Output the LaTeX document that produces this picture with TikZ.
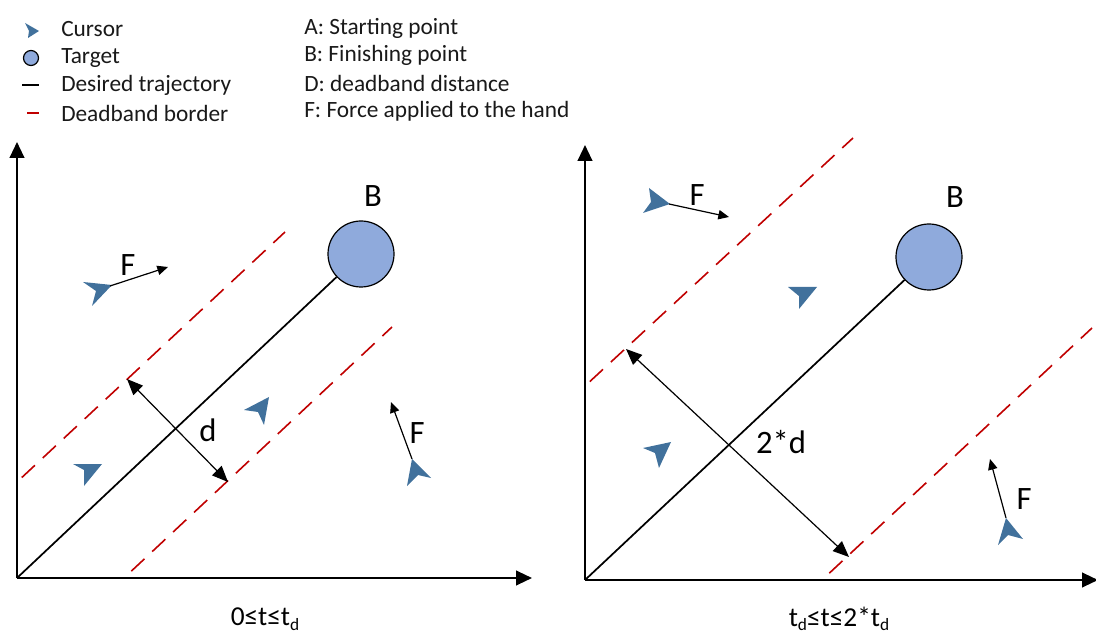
\documentclass[tikz,border=0pt]{standalone}
\usepackage{fontspec}
\setmainfont{Carlito}
\usetikzlibrary{arrows.meta}
\definecolor{curblue}{HTML}{41719C}
\definecolor{tgtblue}{HTML}{8FAADC}
\definecolor{redline}{HTML}{C00000}
\newcommand{\cursorshape}[4]{\fill[curblue] (#1) -- (#2) -- (#3) -- (#4) -- cycle;}
\newcommand{\subd}{\raisebox{-0.35ex}{\fontsize{13}{14}\selectfont d}}
\tikzset{
  axis/.style={line width=1.6pt,-{Triangle[length=12pt,width=11pt]}},
  traj/.style={line width=1.3pt},
  banda/.style={redline,line width=1.2pt,dash pattern=on 13.5pt off 8pt,dash phase=16.6pt},
  bandb/.style={redline,line width=1.2pt,dash pattern=on 13.5pt off 8pt,dash phase=14pt},
  dist/.style={line width=0.9pt,{Triangle[length=12pt,width=10pt]}-{Triangle[length=12pt,width=10pt]}},
  force/.style={line width=0.9pt,-{Triangle[length=8pt,width=7pt]}},
  target/.style={circle,draw=black,line width=0.9pt,fill=tgtblue,inner sep=0pt},
  legend/.style={anchor=west,font=\fontsize{17.5}{20}\selectfont,inner sep=0pt,text=black!90},
  lab/.style={font=\fontsize{24.5}{28}\selectfont,inner sep=0pt},
  captext/.style={font=\fontsize{20.5}{24}\selectfont,inner sep=0pt}
}
\begin{document}
\begin{tikzpicture}[x=0.75pt,y=-0.75pt]
\useasboundingbox (0,0) rectangle (1096,641);
% legend
\cursorshape{25,23}{39,31}{28,38}{29,31}
\node[target,minimum size=11.25pt] (lt) at (31,58) {};
\coordinate (l1a) at (22,85); \coordinate (l1b) at (39,85);
\draw[line width=0.9pt] (l1a) -- (l1b);
\coordinate (l2a) at (27,113); \coordinate (l2b) at (39,113);
\draw[redline,line width=0.9pt] (l2a) -- (l2b);
\node[legend] (t1) at (61,29) {Cursor};
\node[legend] (t2) at (61,58) {Target};
\node[legend] (t3) at (61,85) {Desired trajectory};
\node[legend] (t4) at (61,113) {Deadband border};
\node[legend] (t5) at (304,28) {A: Starting point};
\node[legend] (t6) at (304,55) {B: Finishing point};
\node[legend] (t7) at (304,83) {D: deadband distance};
\node[legend] (t8) at (304,111) {F: Force applied to the hand};
% panel 1
\coordinate (o1) at (17,578); \coordinate (y1) at (17,142); \coordinate (x1) at (532,578);
\draw[axis] (o1) -- (y1);
\draw[axis] (o1) -- (x1);
\node[target,minimum size=49.5pt] (tg1) at (361,254) {};
\draw[traj] (o1) -- (tg1);
\coordinate (a1) at (17,482); \coordinate (a2) at (285,232);
\coordinate (b1) at (124,578); \coordinate (b2) at (392,327);
\draw[banda] (a1) -- (a2);
\draw[bandb] (b1) -- (b2);
\coordinate (d1) at (127,379); \coordinate (d2) at (228,482);
\draw[dist] (d1) -- (d2);
\node[lab] (ld) at (208,430) {d};
\node[lab] (lb1) at (373,196) {B};
\cursorshape{83,282}{112,285}{92,306}{96,291}
\cursorshape{244,410}{269,397}{264,425}{258,412}
\cursorshape{73,464}{102,464}{84,486}{84,470}
\cursorshape{431,478}{412,459}{407,486}{418,475}
\coordinate (f1a) at (110,286); \coordinate (f1b) at (168,267);
\draw[force] (f1a) -- (f1b);
\coordinate (f2a) at (412,459); \coordinate (f2b) at (391,402);
\draw[force] (f2a) -- (f2b);
\node[lab] (lf1) at (128,265) {F};
\node[lab] (lf2) at (417,433) {F};
\node[captext] (c1) at (265,619) {0≤t≤t\subd};
% panel 2
\coordinate (o2) at (585,580); \coordinate (y2) at (585,145); \coordinate (x2) at (1098,580);
\draw[axis] (o2) -- (y2);
\draw[axis] (o2) -- (x2);
\node[target,minimum size=49.5pt] (tg2) at (929,257) {};
\draw[traj] (o2) -- (tg2);
\coordinate (a3) at (585,386); \coordinate (a4) at (853,138);
\coordinate (b3) at (822,580); \coordinate (b4) at (1092,328);
\draw[banda] (a3) -- (a4);
\draw[bandb] (b3) -- (b4);
\coordinate (d3) at (626,349); \coordinate (d4) at (849,557);
\draw[dist] (d3) -- (d4);
\node[lab] (ld2) at (781,442) {2*d};
\node[lab] (lb2) at (955,197) {B};
\cursorshape{649,188}{670,204}{643,213}{651,202}
\cursorshape{788,287}{817,287}{799,309}{799,296}
\cursorshape{643,448}{671,442}{659,468}{655,453}
\cursorshape{1023,539}{1006,518}{998,545}{1008,535}
\coordinate (f3a) at (669,204); \coordinate (f3b) at (729,217);
\draw[force] (f3a) -- (f3b);
\coordinate (f4a) at (1006,518); \coordinate (f4b) at (990,459);
\draw[force] (f4a) -- (f4b);
\node[lab] (lf3) at (697,195) {F};
\node[lab] (lf4) at (1024,499) {F};
\node[captext] (c2) at (839,619) {t\subd≤t≤2*t\subd};
\end{tikzpicture}
\end{document}
